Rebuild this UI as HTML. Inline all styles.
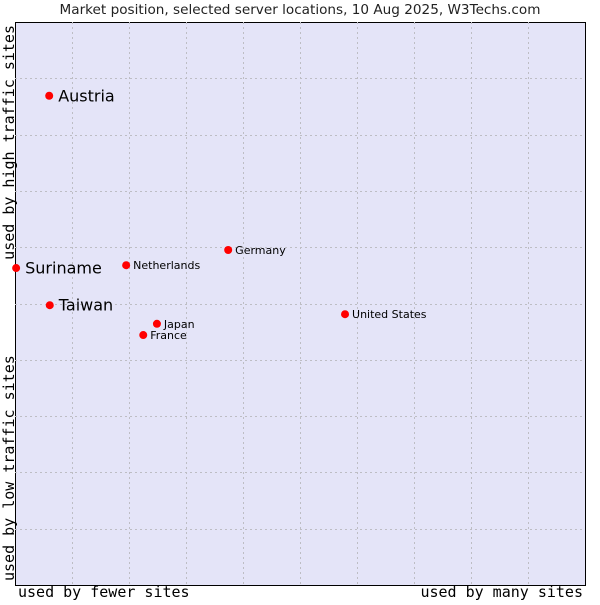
<!DOCTYPE html>
<html><head><meta charset="utf-8"><style>
body{margin:0;background:#fff;width:600px;height:600px;overflow:hidden}
svg text{font-family:"DejaVu Sans","Liberation Sans",sans-serif}
.mono{font-family:"DejaVu Sans Mono","Liberation Mono",monospace !important}
</style></head><body>
<svg id="chart" width="600" height="600">
<text x="300" y="14" text-anchor="middle" font-size="13.6" fill="#222">Market position, selected server locations, 10 Aug 2025, W3Techs.com</text>
<rect x="15.5" y="22.5" width="570" height="563" fill="#e4e4f8" stroke="#000"/>
<g id="grid"></g>
<g id="points"></g>
<text x="18" y="597" class="mono" font-size="15">used by fewer sites</text>
<text x="583" y="597" text-anchor="end" class="mono" font-size="15">used by many sites</text>
<text transform="translate(14,581) rotate(-90)" class="mono" font-size="15">used by low traffic sites</text>
<text transform="translate(14,25) rotate(-90)" text-anchor="end" class="mono" font-size="15">used by high traffic sites</text>
</svg>
<script>
const names=["Austria","Suriname","Taiwan","Netherlands","Germany","United States","Japan","France"];
const xVals=[6.0,0.2,6.1,19.5,37.4,57.9,24.9,22.5];
const yVals=[86.9,56.3,49.7,56.8,59.5,48.1,46.4,44.4];
const bigLabel=[true,true,true,false,false,false,false,false];
const L=15,R=585,T=22,B=585;
const sx=v=>L+v/100*(R-L), sy=v=>B-v/100*(B-T);
const ns="http://www.w3.org/2000/svg";
const grid=document.getElementById('grid');
for(let i=1;i<10;i++){
 const gx=Math.round(sx(i*10))+0.5, gy=Math.round(sy(i*10))+0.5;
 let l=document.createElementNS(ns,'line');
 l.setAttribute('x1',gx);l.setAttribute('x2',gx);l.setAttribute('y1',T);l.setAttribute('y2',B);
 l.setAttribute('stroke','#bdbdc4');l.setAttribute('stroke-dasharray','2,3');
 
 
 grid.appendChild(l);
 l=document.createElementNS(ns,'line');
 l.setAttribute('y1',gy);l.setAttribute('y2',gy);l.setAttribute('x1',L);l.setAttribute('x2',R);
 l.setAttribute('stroke','#bdbdc4');l.setAttribute('stroke-dasharray','2,3');
 
 
 grid.appendChild(l);
}
const pts=document.getElementById('points');
names.forEach((n,i)=>{
 const x=sx(xVals[i]), y=sy(yVals[i]);
 const c=document.createElementNS(ns,'circle');
 c.setAttribute('cx',x);c.setAttribute('cy',y);c.setAttribute('r',4);c.setAttribute('fill','#f00');
 
 
 pts.appendChild(c);
 const t=document.createElementNS(ns,'text');
 t.setAttribute('x',x+(bigLabel[i]?9:7));t.setAttribute('y',y+(bigLabel[i]?5.5:4));
 t.setAttribute('font-size',bigLabel[i]?16:11);t.setAttribute('fill','#000');
 t.textContent=n;
 
 
 pts.appendChild(t);
});
</script>
</body></html>
